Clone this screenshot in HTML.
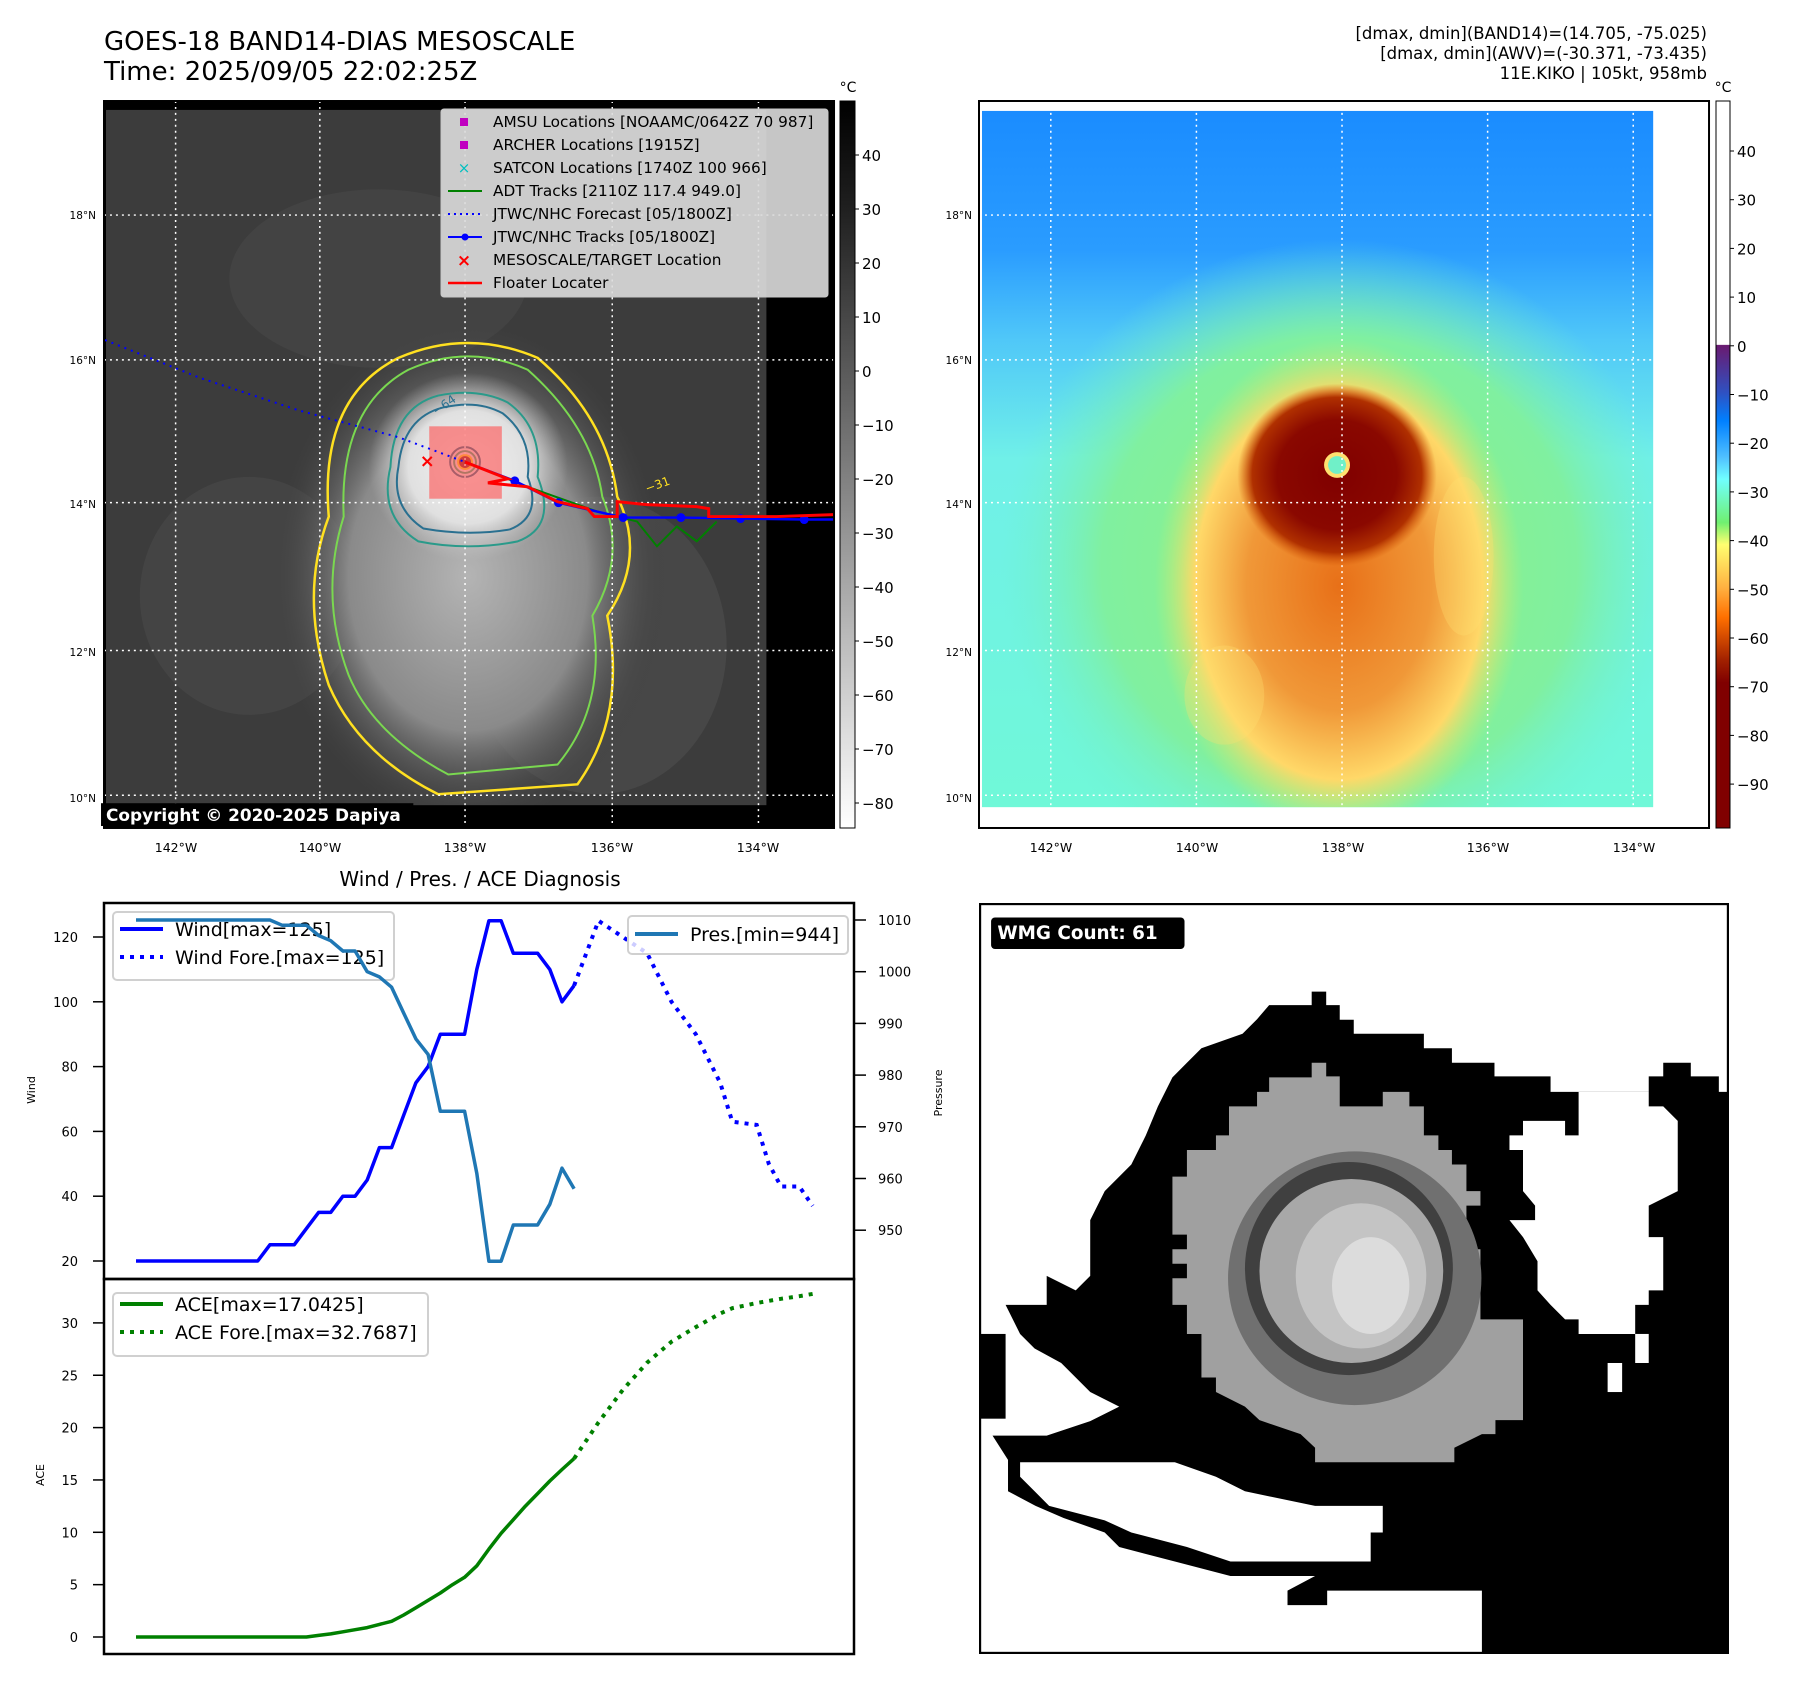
<!DOCTYPE html>
<html><head><meta charset="utf-8">
<style>
html,body{margin:0;padding:0;background:#fff;}
svg text{font-family:"DejaVu Sans","Liberation Sans",sans-serif;}
</style></head>
<body>
<svg id="root" width="1797" height="1690" viewBox="0 0 1797 1690" xmlns="http://www.w3.org/2000/svg">
<defs>
  <linearGradient id="cbGray" x1="0" y1="0" x2="0" y2="1">
    <stop offset="0" stop-color="#000"/><stop offset="0.15" stop-color="#202020"/><stop offset="1" stop-color="#fff"/>
  </linearGradient>
  <linearGradient id="cbColor" x1="0" y1="0" x2="0" y2="1">
    <stop offset="0" stop-color="#fff"/><stop offset="0.335" stop-color="#fff"/>
    <stop offset="0.336" stop-color="#6a1a70"/><stop offset="0.40" stop-color="#3050c0"/>
    <stop offset="0.44" stop-color="#0080ff"/><stop offset="0.49" stop-color="#50c0ff"/>
    <stop offset="0.52" stop-color="#70ffff"/><stop offset="0.58" stop-color="#70f070"/>
    <stop offset="0.61" stop-color="#ffff70"/><stop offset="0.67" stop-color="#ffb040"/>
    <stop offset="0.71" stop-color="#ff7000"/><stop offset="0.77" stop-color="#a02000"/>
    <stop offset="0.80" stop-color="#800000"/><stop offset="1" stop-color="#800000"/>
  </linearGradient>
  <radialGradient id="gCloud" cx="0.5" cy="0.5" r="0.5">
    <stop offset="0" stop-color="#b4b4b4"/><stop offset="0.6" stop-color="#8a8a8a"/><stop offset="1" stop-color="#3c3c3c" stop-opacity="0"/>
  </radialGradient>
  <radialGradient id="gCdo" cx="0.5" cy="0.5" r="0.5">
    <stop offset="0" stop-color="#f2f2f2"/><stop offset="0.6" stop-color="#e0e0e0"/><stop offset="1" stop-color="#c0c0c0" stop-opacity="0"/>
  </radialGradient>
  <linearGradient id="gSky" x1="0" y1="0" x2="0" y2="1">
    <stop offset="0" stop-color="#1a8cff"/><stop offset="0.2" stop-color="#2a9cff"/><stop offset="0.33" stop-color="#50c8f8"/><stop offset="0.5" stop-color="#70f0e8"/><stop offset="1" stop-color="#70f8d8"/>
  </linearGradient>
  <radialGradient id="gHalo" cx="0.5" cy="0.5" r="0.5">
    <stop offset="0" stop-color="#90f080"/><stop offset="0.7" stop-color="#80f0a0"/><stop offset="1" stop-color="#70f0d0" stop-opacity="0"/>
  </radialGradient>
  <radialGradient id="gStorm" cx="0.5" cy="0.5" r="0.5">
    <stop offset="0" stop-color="#e87018"/><stop offset="0.5" stop-color="#f09838"/><stop offset="0.78" stop-color="#ffd868"/><stop offset="1" stop-color="#c0f070" stop-opacity="0"/>
  </radialGradient>
  <radialGradient id="gCore" cx="0.5" cy="0.5" r="0.5">
    <stop offset="0" stop-color="#800000"/><stop offset="0.6" stop-color="#8a0800"/><stop offset="0.85" stop-color="#b03000"/><stop offset="1" stop-color="#d05000" stop-opacity="0"/>
  </radialGradient>
  <clipPath id="clipL"><rect x="106" y="110" width="664" height="701"/></clipPath>
  <clipPath id="clipR"><rect x="987" y="111" width="673" height="702"/></clipPath>
</defs>

<!-- Titles -->
<text x="104" y="50" font-size="26">GOES-18 BAND14-DIAS MESOSCALE</text>
<text x="104" y="80" font-size="26">Time: 2025/09/05 22:02:25Z</text>
<g font-size="16.5" text-anchor="end">
  <text x="1707" y="39">[dmax, dmin](BAND14)=(14.705, -75.025)</text>
  <text x="1707" y="59">[dmax, dmin](AWV)=(-30.371, -73.435)</text>
  <text x="1707" y="79">11E.KIKO | 105kt, 958mb</text>
</g>

<!-- LEFT MAP -->
<g transform="translate(104,101) scale(0.9946,0.9918) translate(-104,-101)">
  <rect x="104" y="101" width="734" height="733" fill="#000"/>
  <rect x="106" y="110" width="664" height="701" fill="#3c3c3c"/>
  <g clip-path="url(#clipL)">
  <ellipse cx="380" cy="280" rx="150" ry="90" fill="#464646" opacity="0.7"/>
  <ellipse cx="250" cy="600" rx="110" ry="120" fill="#4a4a4a" opacity="0.6"/>
  <ellipse cx="600" cy="650" rx="130" ry="150" fill="#4c4c4c" opacity="0.7"/>
  <ellipse cx="470" cy="580" rx="200" ry="260" fill="url(#gCloud)"/>
  <ellipse cx="470" cy="470" rx="100" ry="95" fill="url(#gCdo)"/>
  </g>
  <path d="M330 520 Q320 400 400 360 Q470 330 540 360 Q610 420 620 500 Q650 560 610 620 Q630 720 580 790 L440 800 Q360 760 330 690 Q300 600 330 520Z" fill="none" stroke="#ffe020" stroke-width="2.5"/>
  <path d="M345 520 Q340 410 410 372 Q470 345 530 372 Q595 430 605 500 Q630 560 595 620 Q610 710 560 770 L450 780 Q375 740 350 680 Q320 600 345 520Z" fill="none" stroke="#7ad850" stroke-width="2"/>
  <path d="M392 470 Q395 410 440 398 Q480 390 510 405 Q545 430 540 480 Q560 530 520 545 Q470 555 420 545 Q380 520 392 470Z" fill="none" stroke="#2a9a8a" stroke-width="2"/>
  <path d="M400 470 Q405 420 445 410 Q480 402 505 416 Q535 440 530 480 Q545 520 512 533 Q470 540 425 532 Q392 510 400 470Z" fill="none" stroke="#2a7090" stroke-width="2"/>
  <text x="438" y="418" font-size="12" fill="#2a7090" transform="rotate(-35 438 418)">−64</text>
  <text x="650" y="496" font-size="12" fill="#ffe020" transform="rotate(-20 650 496)">−31</text>
  <circle cx="467" cy="465" r="15" fill="none" stroke="#2a7090" stroke-width="2"/>
  <circle cx="467" cy="465" r="11" fill="none" stroke="#3ab080" stroke-width="2"/>
  <circle cx="467" cy="465" r="8" fill="#ffe020"/>
  <circle cx="467" cy="465" r="6" fill="#8a2020"/>
  <g stroke="#fff" stroke-width="1.5" stroke-dasharray="2,4">
    <line x1="176" y1="101" x2="176" y2="834"/><line x1="321" y1="101" x2="321" y2="834"/><line x1="467" y1="101" x2="467" y2="834"/><line x1="615" y1="101" x2="615" y2="834"/><line x1="762" y1="101" x2="762" y2="834"/>
    <line x1="104" y1="216" x2="838" y2="216"/><line x1="104" y1="362" x2="838" y2="362"/><line x1="104" y1="506" x2="838" y2="506"/><line x1="104" y1="655" x2="838" y2="655"/><line x1="104" y1="801" x2="838" y2="801"/>
  </g>
  <rect x="431" y="429" width="73" height="73" fill="#ff5050" opacity="0.6"/>
  <polyline points="105,342 200,380 300,413 400,440 467,465" fill="none" stroke="#0000ff" stroke-width="2" stroke-dasharray="2,5"/>
  <polyline points="467,465 530,490 600,515 640,525 660,550 680,530 700,545 720,525" fill="none" stroke="#008000" stroke-width="2"/>
  <polyline points="467,465 517,484 561,506 626,521 684,521 744,522 808,523 838,523" fill="none" stroke="#0000ff" stroke-width="2.5"/>
  <g fill="#0000ff"><circle cx="517" cy="484" r="4.5"/><circle cx="561" cy="506" r="4.5"/><circle cx="626" cy="521" r="4.5"/><circle cx="684" cy="521" r="4.5"/><circle cx="744" cy="522" r="4.5"/><circle cx="808" cy="523" r="4.5"/></g>
  <polyline points="467,465 510,482 490,486 530,490 560,505 590,512 597,520 620,520 620,505 650,508 700,510 712,512 712,520 780,520 838,518" fill="none" stroke="#ff0000" stroke-width="3"/>
  <text x="429" y="470" font-size="18" fill="#ff0000" text-anchor="middle" font-weight="bold">×</text>
  <rect x="101" y="809" width="314" height="23" fill="#000"/>
  <text x="106" y="827" font-size="17" font-weight="bold" fill="#fff">Copyright © 2020-2025 Dapiya</text>
  <rect x="104" y="101" width="734" height="733" fill="none" stroke="#000" stroke-width="2"/>
</g>
<!-- legend -->
<g>
  <rect x="441" y="109" width="387" height="188" fill="#dcdcdc" fill-opacity="0.9" stroke="#c8c8c8" rx="3"/>
  <g font-size="15.3" fill="#000">
    <rect x="460" y="118" width="8" height="8" fill="#c000c0"/><text x="493" y="127">AMSU Locations [NOAAMC/0642Z 70 987]</text>
    <rect x="460" y="141" width="8" height="8" fill="#c000c0"/><text x="493" y="150">ARCHER Locations [1915Z]</text>
    <text x="464" y="173" fill="#00c0c0" text-anchor="middle" font-size="15">×</text><text x="493" y="173">SATCON Locations [1740Z 100 966]</text>
    <line x1="448" y1="191" x2="482" y2="191" stroke="#008000" stroke-width="2"/><text x="493" y="196">ADT Tracks [2110Z 117.4 949.0]</text>
    <line x1="448" y1="214" x2="482" y2="214" stroke="#0000ff" stroke-width="2" stroke-dasharray="2,4"/><text x="493" y="219">JTWC/NHC Forecast [05/1800Z]</text>
    <line x1="448" y1="237" x2="482" y2="237" stroke="#0000ff" stroke-width="2"/><circle cx="465" cy="237" r="3.5" fill="#0000ff"/><text x="493" y="242">JTWC/NHC Tracks [05/1800Z]</text>
    <text x="464" y="266" fill="#ff0000" text-anchor="middle" font-size="17" font-weight="bold">×</text><text x="493" y="265">MESOSCALE/TARGET Location</text>
    <line x1="448" y1="283" x2="482" y2="283" stroke="#ff0000" stroke-width="2.5"/><text x="493" y="288">Floater Locater</text>
  </g>
</g>
<!-- left map axes labels -->
<g font-size="12.5" text-anchor="middle">
  <text x="176" y="852">142°W</text><text x="320" y="852">140°W</text><text x="465" y="852">138°W</text><text x="612" y="852">136°W</text><text x="758" y="852">134°W</text>
</g>
<g font-size="10.5" text-anchor="end">
  <text x="96" y="219">18°N</text><text x="96" y="364">16°N</text><text x="96" y="508">14°N</text><text x="96" y="656">12°N</text><text x="96" y="802">10°N</text>
</g>
<!-- left colorbar -->
<g>
  <rect x="840" y="101" width="15" height="727" fill="url(#cbGray)" stroke="#000" stroke-width="1"/>
  <text x="848" y="92" font-size="14" text-anchor="middle">°C</text>
  <g font-size="15" id="cb1"></g>
</g>

<!-- RIGHT MAP -->
<g transform="translate(979,101) scale(0.9973,0.9918) translate(-984,-101)">
  <rect x="984" y="101" width="732" height="733" fill="#fff"/>
  <rect x="987" y="111" width="673" height="702" fill="url(#gSky)"/>
  <g clip-path="url(#clipR)">
  <ellipse cx="1345" cy="570" rx="340" ry="330" fill="url(#gHalo)"/>
  <ellipse cx="1345" cy="590" rx="185" ry="250" fill="url(#gStorm)"/>
  <ellipse cx="1230" cy="700" rx="40" ry="50" fill="#ffe070" opacity="0.3"/>
  <ellipse cx="1470" cy="560" rx="30" ry="80" fill="#ffe070" opacity="0.3"/>
  <ellipse cx="1343" cy="478" rx="100" ry="92" fill="url(#gCore)"/>
  </g>
  <circle cx="1343" cy="468" r="13" fill="#ffe070"/>
  <circle cx="1343" cy="468" r="9" fill="#70f0c8"/>
  <g stroke="#fff" stroke-width="1.5" stroke-dasharray="2,4">
    <line x1="1056" y1="101" x2="1056" y2="834"/><line x1="1202" y1="101" x2="1202" y2="834"/><line x1="1348" y1="101" x2="1348" y2="834"/><line x1="1494" y1="101" x2="1494" y2="834"/><line x1="1640" y1="101" x2="1640" y2="834"/>
    <line x1="984" y1="216" x2="1716" y2="216"/><line x1="984" y1="362" x2="1716" y2="362"/><line x1="984" y1="506" x2="1716" y2="506"/><line x1="984" y1="655" x2="1716" y2="655"/><line x1="984" y1="801" x2="1716" y2="801"/>
  </g>
  <rect x="984" y="101" width="732" height="733" fill="none" stroke="#000" stroke-width="2"/>
</g>
<g font-size="12.5" text-anchor="middle">
  <text x="1051" y="852">142°W</text><text x="1197" y="852">140°W</text><text x="1343" y="852">138°W</text><text x="1488" y="852">136°W</text><text x="1634" y="852">134°W</text>
</g>
<g font-size="10.5" text-anchor="end">
  <text x="972" y="219">18°N</text><text x="972" y="364">16°N</text><text x="972" y="508">14°N</text><text x="972" y="656">12°N</text><text x="972" y="802">10°N</text>
</g>
<g>
  <rect x="1716" y="101" width="14" height="727" fill="url(#cbColor)" stroke="#000" stroke-width="1"/>
  <text x="1723" y="92" font-size="14" text-anchor="middle">°C</text>
  <g font-size="15" id="cb2"></g>
</g>

<!-- DIAGNOSIS CHART -->
<text x="480" y="886" font-size="20" text-anchor="middle">Wind / Pres. / ACE Diagnosis</text>
<g id="chart"></g>

<!-- WMG panel -->
<g>
  <svg x="979" y="903" width="750" height="751" viewBox="0 0 1551 1551" preserveAspectRatio="none">
    <rect width="1551" height="1551" fill="#fff"/>
    <polygon fill="#000" points="688,183 718,183 718,211 746,211 746,241 775,241 775,270 920,270 920,300 978,300 978,330 1066,330 1066,358 1182,358 1182,390 1385,390 1385,358 1415,358 1415,330 1472,330 1472,358 1530,358 1530,390 1551,390 1551,1551 1040,1551 1040,1420 720,1420 720,1450 638,1450 638,1420 695,1390 520,1390 405,1360 290,1330 260,1300 175,1270 117,1245 60,1215 60,1150 28,1100 140,1100 230,1070 290,1040 230,1010 170,950 115,920 85,890 55,830 140,830 140,770 200,800 230,770 230,655 260,595 315,540 345,480 370,420 400,360 430,330 460,300 545,270 575,240 600,211 688,211"/>
    <rect x="0" y="890" width="55" height="175" fill="#000"/>
    <polygon fill="#fff" points="85,1155 405,1155 490,1185 550,1215 695,1245 835,1245 835,1300 810,1300 810,1360 520,1360 430,1330 315,1300 260,1275 145,1245 115,1215 85,1185"/>
    <polygon fill="#fff" points="1125,450 1212,450 1212,480 1240,480 1240,390 1385,390 1385,420 1415,420 1445,450 1445,595 1385,625 1385,690 1415,690 1415,800 1385,800 1385,830 1357,830 1357,890 1240,890 1240,860 1212,860 1182,830 1155,800 1155,740 1125,690 1097,655 1150,655 1150,625 1125,595 1125,510 1097,510 1097,480 1125,480"/>
    <rect x="1300" y="950" width="30" height="60" fill="#fff"/>
    <rect x="1357" y="890" width="28" height="60" fill="#fff"/>
    <polygon fill="#a0a0a0" points="688,330 718,330 718,358 746,358 746,420 835,420 835,390 890,390 890,420 920,420 920,480 950,480 950,510 978,510 978,540 1008,540 1008,595 1037,595 1037,625 1008,625 1008,715 1037,715 1037,860 1125,860 1125,1068 1068,1068 1068,1097 1040,1097 983,1125 983,1155 695,1155 695,1125 665,1097 580,1068 550,1040 490,1010 490,980 460,980 460,890 430,890 430,830 400,830 400,775 430,775 430,745 400,745 400,715 430,715 430,685 400,685 400,565 430,565 430,510 490,510 490,480 517,480 517,420 575,420 575,390 600,390 600,360 688,360"/>
    <ellipse cx="777" cy="775" rx="262" ry="262" fill="#707070"/>
    <ellipse cx="765" cy="755" rx="215" ry="220" fill="#404040"/>
    <ellipse cx="770" cy="760" rx="190" ry="190" fill="#a8a8a8"/>
    <ellipse cx="790" cy="770" rx="135" ry="150" fill="#c4c4c4"/>
    <ellipse cx="810" cy="790" rx="80" ry="100" fill="#dcdcdc"/>
    <rect x="25" y="30" width="400" height="65" rx="8" fill="#000"/>
    <text x="38" y="74" font-size="38" font-weight="bold" fill="#fff">WMG Count: 61</text>
    <rect x="2" y="2" width="1547" height="1547" fill="none" stroke="#000" stroke-width="5"/>
  </svg>
</g>
</svg>
<script>
// ===== Chart data =====
var pastIdx = [0,1,2,3,4,5,6,7,8,9,10,11,12,13,14,15,16,17,18,19,20,21,22,23,24,25,26,27,28,29,30,31,32,33,34,35,36];
var windPast = [20,20,20,20,20,20,20,20,20,20,20,25,25,25,30,35,35,40,40,45,55,55,65,75,80,90,90,90,110,125,125,115,115,115,110,100,105];
var presPast = [1010,1010,1010,1010,1010,1010,1010,1010,1010,1010,1010,1010,1009,1009,1009,1007,1006,1004,1004,1000,999,997,992,987,984,973,973,973,961,944,944,951,951,951,955,962,958];
var acePast = [0,0,0,0,0,0,0,0,0,0,0,0,0,0,0,0.15,0.3,0.5,0.7,0.9,1.2,1.5,2.1,2.8,3.5,4.2,5.0,5.7,6.8,8.4,9.9,11.2,12.5,13.7,14.9,16.0,17.04];
var foreIdx = [36,38,40,42,44,46,48,49,51,52,53,54.5,55.6];
var windFore = [105,125,120,115,100,90,75,63,62,50,43,43,37];
var aceFore = [17.04,20.5,23.6,26.2,28.2,29.6,30.9,31.4,31.9,32.1,32.3,32.55,32.77];
var windTicks = [20,40,60,80,100,120];
var presTicks = [950,960,970,980,990,1000,1010];
var aceTicks = [0,5,10,15,20,25,30];

var NS = "http://www.w3.org/2000/svg";
function xS(i){ return 136 + i*12.17; }
function yW(v){ return 1261 - (v-20)*3.24; }
function yP(v){ return 920 + (1010-v)*5.17; }
function yA(v){ return 1637 - v*10.47; }
function mk(tag, attrs, parent){
  var e = document.createElementNS(NS, tag);
  for (var k in attrs) e.setAttribute(k, attrs[k]);
  parent.appendChild(e); return e;
}
function pts(xs, ys, yf){ return xs.map(function(x,i){ return xS(x).toFixed(1)+","+yf(ys[i]).toFixed(1); }).join(" "); }
var chart = document.getElementById("chart");

var f1 = mk("rect",{x:104,y:903,width:750,height:376,fill:"none",stroke:"#000","stroke-width":2.5},chart);


var f2 = mk("rect",{x:104,y:1279,width:750,height:375,fill:"none",stroke:"#000","stroke-width":2.5},chart);



windTicks.forEach(function(v){
  var y = yW(v);
  var t = mk("line",{x1:93,y1:y,x2:104,y2:y,stroke:"#000","stroke-width":1.5},chart);
  
  
  var l = mk("text",{x:78,y:y+5,"font-size":13,"text-anchor":"end"},chart);
  l.textContent = v;
  
  
});
presTicks.forEach(function(v){
  var y = yP(v);
  var t = mk("line",{x1:854,y1:y,x2:866,y2:y,stroke:"#000","stroke-width":1.5},chart);
  
  
  var l = mk("text",{x:878,y:y+5,"font-size":13},chart);
  l.textContent = v;
  
  
});
aceTicks.forEach(function(v){
  var y = yA(v);
  var t = mk("line",{x1:93,y1:y,x2:104,y2:y,stroke:"#000","stroke-width":1.5},chart);
  
  
  var l = mk("text",{x:78,y:y+5,"font-size":13,"text-anchor":"end"},chart);
  l.textContent = v;
  
  
});
var yl1 = mk("text",{x:35,y:1090,"font-size":11,"text-anchor":"middle",transform:"rotate(-90 35 1090)"},chart);
yl1.textContent = "Wind";


var yl2 = mk("text",{x:942,y:1093,"font-size":11,"text-anchor":"middle",transform:"rotate(-90 942 1093)"},chart);
yl2.textContent = "Pressure";


var yl3 = mk("text",{x:44,y:1475,"font-size":11,"text-anchor":"middle",transform:"rotate(-90 44 1475)"},chart);
yl3.textContent = "ACE";



var sW = mk("polyline",{points:pts(pastIdx,windPast,yW),fill:"none",stroke:"#0000ff","stroke-width":3.5,"stroke-linejoin":"round"},chart);


var sWF = mk("polyline",{points:pts(foreIdx,windFore,yW),fill:"none",stroke:"#0000ff","stroke-width":4,"stroke-dasharray":"4,6"},chart);


var sP = mk("polyline",{points:pts(pastIdx,presPast,yP),fill:"none",stroke:"#1f77b4","stroke-width":3.5,"stroke-linejoin":"round"},chart);


var sA = mk("polyline",{points:pts(pastIdx,acePast,yA),fill:"none",stroke:"#008000","stroke-width":3.5,"stroke-linejoin":"round"},chart);


var sAF = mk("polyline",{points:pts(foreIdx,aceFore,yA),fill:"none",stroke:"#008000","stroke-width":4,"stroke-dasharray":"4,6"},chart);



function legend(x,y,w,h,rows,name){
  var g = mk("g",{},chart);
  
  
  mk("rect",{x:x,y:y,width:w,height:h,rx:4,fill:"#fff","fill-opacity":0.8,stroke:"#d0d0d0","stroke-width":2},g);
  rows.forEach(function(r){
    mk("line",{x1:x+7,y1:r.y,x2:x+50,y2:r.y,stroke:r.c,"stroke-width":4,"stroke-dasharray":r.d||"none"},g);
    var t = mk("text",{x:x+62,y:r.y+7,"font-size":19},g);
    t.textContent = r.t;
  });
}
legend(113,912,281,68,[{y:929,c:"#0000ff",t:"Wind[max=125]"},{y:957,c:"#0000ff",d:"4,6",t:"Wind Fore.[max=125]"}],"wind-legend");
legend(628,916,220,38,[{y:934,c:"#1f77b4",t:"Pres.[min=944]"}],"pressure-legend");
legend(113,1293,315,63,[{y:1304,c:"#008000",t:"ACE[max=17.0425]"},{y:1332,c:"#008000",d:"4,6",t:"ACE Fore.[max=32.7687]"}],"ace-legend");
chart.appendChild(sP);

var cb1Vals = [40,30,20,10,0,-10,-20,-30,-40,-50,-60,-70,-80];
var cb1 = document.getElementById("cb1");
cb1Vals.forEach(function(v){
  var y = 155 + (40-v)*5.40;
  mk("line",{x1:855,y1:y,x2:859,y2:y,stroke:"#000"},cb1);
  var t = mk("text",{x:862,y:y+6},cb1);
  t.textContent = v<0 ? "\u2212"+(-v) : v;
  
  
});
var cb2Vals = [40,30,20,10,0,-10,-20,-30,-40,-50,-60,-70,-80,-90];
var cb2 = document.getElementById("cb2");
cb2Vals.forEach(function(v){
  var y = 151 + (40-v)*4.87;
  mk("line",{x1:1730,y1:y,x2:1734,y2:y,stroke:"#000"},cb2);
  var t = mk("text",{x:1737,y:y+6},cb2);
  t.textContent = v<0 ? "\u2212"+(-v) : v;
  
  
});
</script>
</body></html>
